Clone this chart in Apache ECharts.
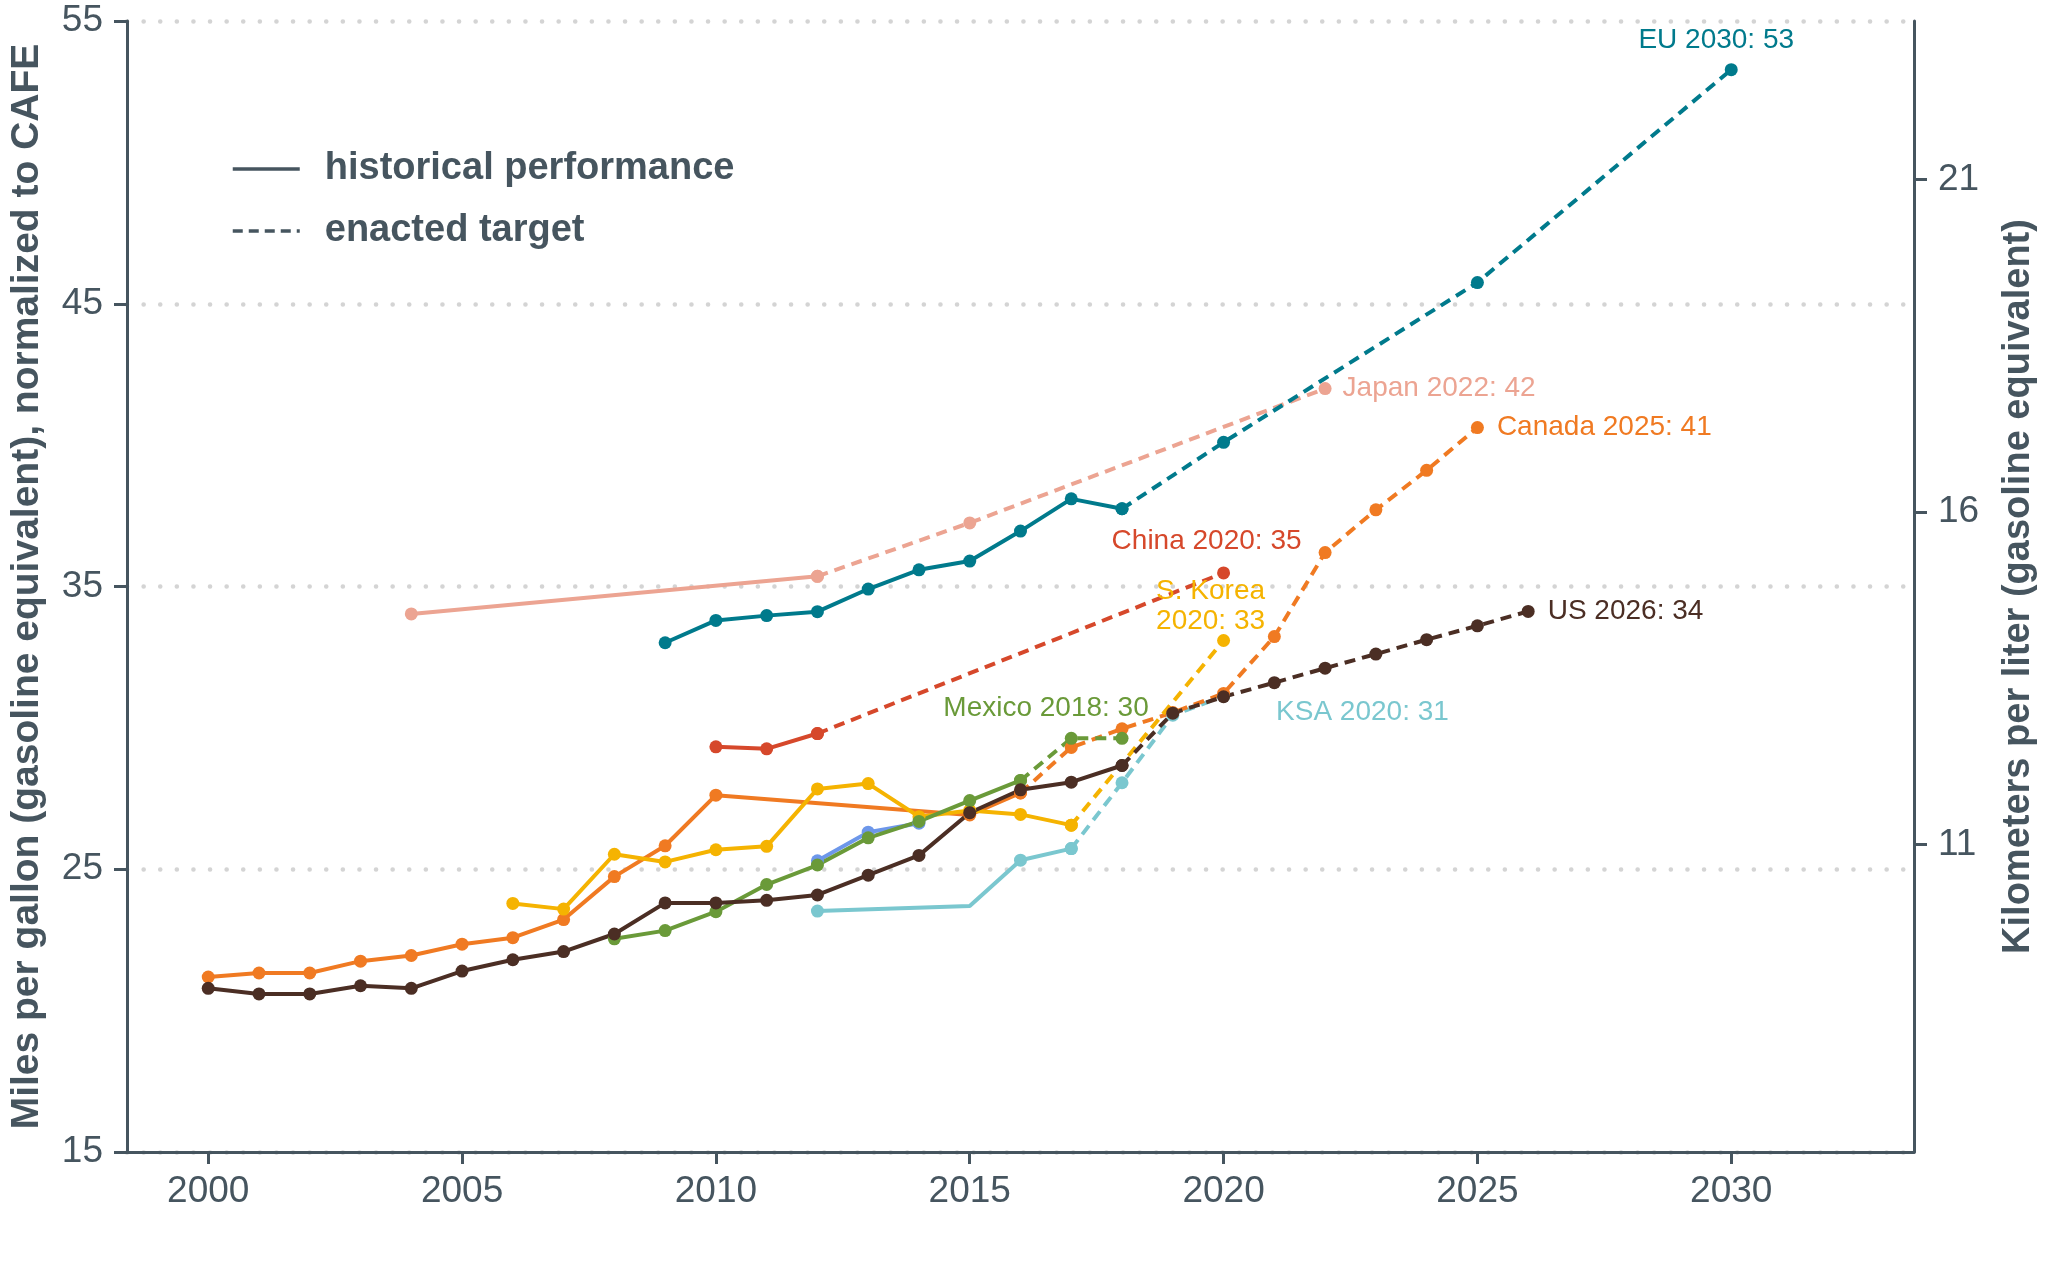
<!DOCTYPE html>
<html><head><meta charset="utf-8">
<script src="https://cdn.jsdelivr.net/npm/echarts@6/dist/echarts.min.js"></script>
<style>html,body{margin:0;padding:0;background:#fff}#c{width:2046px;height:1266px}</style>
</head><body><div id="c"></div>
<script>
// ---------------- DATA (mpg, gasoline equivalent, normalized to CAFE) ----------------
const xTickYears = [2000, 2005, 2010, 2015, 2020, 2025, 2030];
const yTicksMpg = [15, 25, 35, 45, 55];
const yTicksKmL = [11, 16, 21];

const japanHistYears = [2004, 2012];
const japanHistMpg = [34.03, 35.36];
const japanTargetYears = [2012, 2015, 2022];
const japanTargetMpg = [35.36, 37.25, 42.0];

const euHistYears = [2009, 2010, 2011, 2012, 2013, 2014, 2015, 2016, 2017, 2018];
const euHistMpg = [33.01, 33.80, 33.97, 34.11, 34.91, 35.59, 35.90, 36.96, 38.10, 37.75];
const euTargetYears = [2018, 2020, 2025, 2030];
const euTargetMpg = [37.75, 40.10, 45.75, 53.28];

const chinaHistYears = [2010, 2011, 2012];
const chinaHistMpg = [29.33, 29.26, 29.80];
const chinaTargetYears = [2012, 2020];
const chinaTargetMpg = [29.80, 35.48];

const ksaHistYears = [2012, 2015, 2016, 2017];
const ksaHistMpg = [23.52, 23.70, 25.32, 25.73];
const ksaNoDotYears = [2015];
const ksaTargetYears = [2017, 2018, 2019, 2020];
const ksaTargetMpg = [25.73, 28.06, 30.45, 31.12];

const canadaHistYears = [2000, 2001, 2002, 2003, 2004, 2005, 2006, 2007, 2008, 2009, 2010, 2015, 2016];
const canadaHistMpg = [21.19, 21.33, 21.33, 21.75, 21.95, 22.35, 22.58, 23.22, 24.74, 25.83, 27.62, 26.92, 27.70];
const canadaTargetYears = [2016, 2017, 2018, 2019, 2020, 2021, 2022, 2023, 2024, 2025];
const canadaTargetMpg = [27.70, 29.31, 29.97, 30.54, 31.22, 33.23, 36.20, 37.71, 39.11, 40.62];

const koreaHistYears = [2006, 2007, 2008, 2009, 2010, 2011, 2012, 2013, 2014, 2015, 2016, 2017];
const koreaHistMpg = [23.79, 23.59, 25.53, 25.26, 25.69, 25.81, 27.84, 28.03, 26.86, 27.08, 26.94, 26.56];
const koreaTargetYears = [2017, 2020];
const koreaTargetMpg = [26.56, 33.09];

const otherHistYears = [2012, 2013, 2014];
const otherHistMpg = [25.30, 26.31, 26.63];

const mexicoHistYears = [2008, 2009, 2010, 2011, 2012, 2013, 2014, 2015, 2016];
const mexicoHistMpg = [22.54, 22.83, 23.50, 24.46, 25.15, 26.11, 26.69, 27.43, 28.14];
const mexicoTargetYears = [2016, 2017, 2018];
const mexicoTargetMpg = [28.14, 29.63, 29.63];

const usHistYears = [2000, 2001, 2002, 2003, 2004, 2005, 2006, 2007, 2008, 2009, 2010, 2011, 2012, 2013, 2014, 2015, 2016, 2017, 2018];
const usHistMpg = [20.79, 20.59, 20.59, 20.88, 20.79, 21.40, 21.80, 22.09, 22.71, 23.81, 23.81, 23.90, 24.09, 24.79, 25.49, 27.00, 27.81, 28.08, 28.67];
const usTargetYears = [2018, 2019, 2020, 2021, 2022, 2023, 2024, 2025, 2026];
const usTargetMpg = [28.67, 30.52, 31.10, 31.60, 32.11, 32.61, 33.12, 33.61, 34.12];

const endLabels = {
  japan: 'Japan 2022: 42', eu: 'EU 2030: 53', china: 'China 2020: 35', ksa: 'KSA 2020: 31',
  canada: 'Canada 2025: 41', korea: 'S. Korea\n2020: 33', mexico: 'Mexico 2018: 30', us: 'US 2026: 34'
};
const legendNames = ['historical performance', 'enacted target'];
const MPG_TO_KML = 0.425144;

// ---------------- STYLE ----------------
const FONT = '"Liberation Sans", Arial, Helvetica, sans-serif';
const AX = '#46555f';
const LW = 4, SYM = 13;

const countries = [
  {key:'japan', color:'#eca492', hy:japanHistYears, hv:japanHistMpg, ty:japanTargetYears, tv:japanTargetMpg, pos:'right', off:[6,0]},
  {key:'eu', color:'#007a8c', hy:euHistYears, hv:euHistMpg, ty:euTargetYears, tv:euTargetMpg, pos:'top', off:[-15,-3]},
  {key:'china', color:'#d6482b', hy:chinaHistYears, hv:chinaHistMpg, ty:chinaTargetYears, tv:chinaTargetMpg, pos:'top', off:[-17,-5]},
  {key:'ksa', color:'#7ac7cf', hy:ksaHistYears, hv:ksaHistMpg, ty:ksaTargetYears, tv:ksaTargetMpg, pos:'right', off:[41,16], noDot:ksaNoDotYears},
  {key:'canada', color:'#f07a22', hy:canadaHistYears, hv:canadaHistMpg, ty:canadaTargetYears, tv:canadaTargetMpg, pos:'right', off:[8,0]},
  {key:'korea', color:'#f5b301', hy:koreaHistYears, hv:koreaHistMpg, ty:koreaTargetYears, tv:koreaTargetMpg, pos:'top', off:[-13,7]},
  {key:'other', color:'#6d97ea', hy:otherHistYears, hv:otherHistMpg},
  {key:'mexico', color:'#6a9a39', hy:mexicoHistYears, hv:mexicoHistMpg, ty:mexicoTargetYears, tv:mexicoTargetMpg, pos:'top', off:[-76,-4]},
  {key:'us', color:'#4b2e24', hy:usHistYears, hv:usHistMpg, ty:usTargetYears, tv:usTargetMpg, pos:'right', off:[8,0]}
];

const series = [];
countries.forEach(c => {
  const noDot = c.noDot || [];
  series.push({
    name: c.key + ' historical', type: 'line', xAxisIndex: 0, yAxisIndex: 0,
    data: c.hy.map((y, i) => noDot.includes(y) ? {value:[y, c.hv[i]], symbol:'none'} : {value:[y, c.hv[i]]}),
    symbol: 'circle', symbolSize: SYM, showAllSymbol: true,
    lineStyle: {color: c.color, width: LW}, itemStyle: {color: c.color},
    emphasis: {disabled: true}, silent: true
  });
  if (c.ty) {
    const n = c.ty.length;
    series.push({
      name: c.key + ' target', type: 'line', xAxisIndex: 0, yAxisIndex: 0,
      data: c.ty.map((y, i) => {
        const d = {value:[y, c.tv[i]]};
        if (i === n - 1) {
          d.label = {show: true, position: c.pos, offset: c.off, formatter: endLabels[c.key],
            color: c.color, fontSize: 28, fontFamily: FONT, lineHeight: 30, align: c.pos === 'right' ? 'left' : 'center'};
        }
        return d;
      }),
      symbol: 'circle', symbolSize: SYM, showAllSymbol: true,
      lineStyle: {color: c.color, width: LW, type: [11, 7]}, itemStyle: {color: c.color},
      emphasis: {disabled: true}, silent: true
    });
  }
});
// legend entries
series.push({name: legendNames[0], type:'line', data:[], symbol:'none', lineStyle:{color:AX, width:4}, itemStyle:{color:AX}});
series.push({name: legendNames[1], type:'line', data:[], symbol:'none', lineStyle:{color:AX, width:4, type:[10,6]}, itemStyle:{color:AX}});

const chart = echarts.init(document.getElementById('c'), null, {renderer:'canvas'});
chart.setOption({
  animation: false,
  backgroundColor: '#fff',
  textStyle: {fontFamily: FONT},
  grid: {left: 121, right: 124, top: 21, bottom: 114, containLabel: false},
  legend: {
    data: legendNames.map(n => ({name: n})), orient: 'vertical', left: 226, top: 142,
    itemWidth: 67, itemHeight: 14, itemGap: 18,
    itemStyle: {opacity: 0},
    lineStyle: {width: 3.5},
    textStyle: {fontSize: 38, fontWeight: 'bold', color: AX, fontFamily: FONT, lineHeight: 44, padding:[0,0,0,20]},
    selectedMode: false
  },
  xAxis: {
    type: 'value', min: 1998.40, max: 2033.60,
    axisLine: {show: true, onZero: false, lineStyle: {color: AX, width: 3}},
    axisTick: {show: true, customValues: xTickYears, length: 12, lineStyle: {color: AX, width: 3}},
    axisLabel: {customValues: xTickYears, formatter: v => String(v), fontSize: 37, color: AX, margin: 21, fontFamily: FONT},
    splitLine: {show: false}
  },
  yAxis: [{
    type: 'value', min: yTicksMpg[0], max: yTicksMpg[yTicksMpg.length-1], interval: 10,
    name: 'Miles per gallon (gasoline equivalent), normalized to CAFE',
    nameLocation: 'middle', nameGap: 80, nameRotate: 90,
    nameTextStyle: {fontSize: 39, fontWeight: 'bold', color: AX, fontFamily: FONT},
    axisLine: {show: true, lineStyle: {color: AX, width: 3}},
    axisTick: {show: true, length: 13, lineStyle: {color: AX, width: 3}},
    axisLabel: {fontSize: 37, color: AX, margin: 24, fontFamily: FONT},
    splitLine: {show: true, lineStyle: {color: '#d4d4d4', width: 4.5, type: [0.1, 16.5], cap: 'round'}}
  }, {
    type: 'value', position: 'right',
    min: yTicksMpg[0] * MPG_TO_KML, max: yTicksMpg[yTicksMpg.length-1] * MPG_TO_KML,
    name: 'Kilometers per liter (gasoline equivalent)',
    nameLocation: 'middle', nameGap: 86, nameRotate: 90,
    nameTextStyle: {fontSize: 38, fontWeight: 'bold', color: AX, fontFamily: FONT},
    axisLine: {show: true, lineStyle: {color: AX, width: 3}},
    axisTick: {show: true, customValues: yTicksKmL, length: 13, lineStyle: {color: AX, width: 3}},
    axisLabel: {customValues: yTicksKmL, fontSize: 37, color: AX, margin: 24, fontFamily: FONT},
    splitLine: {show: false}
  }],
  series: series
});
</script></body></html>
